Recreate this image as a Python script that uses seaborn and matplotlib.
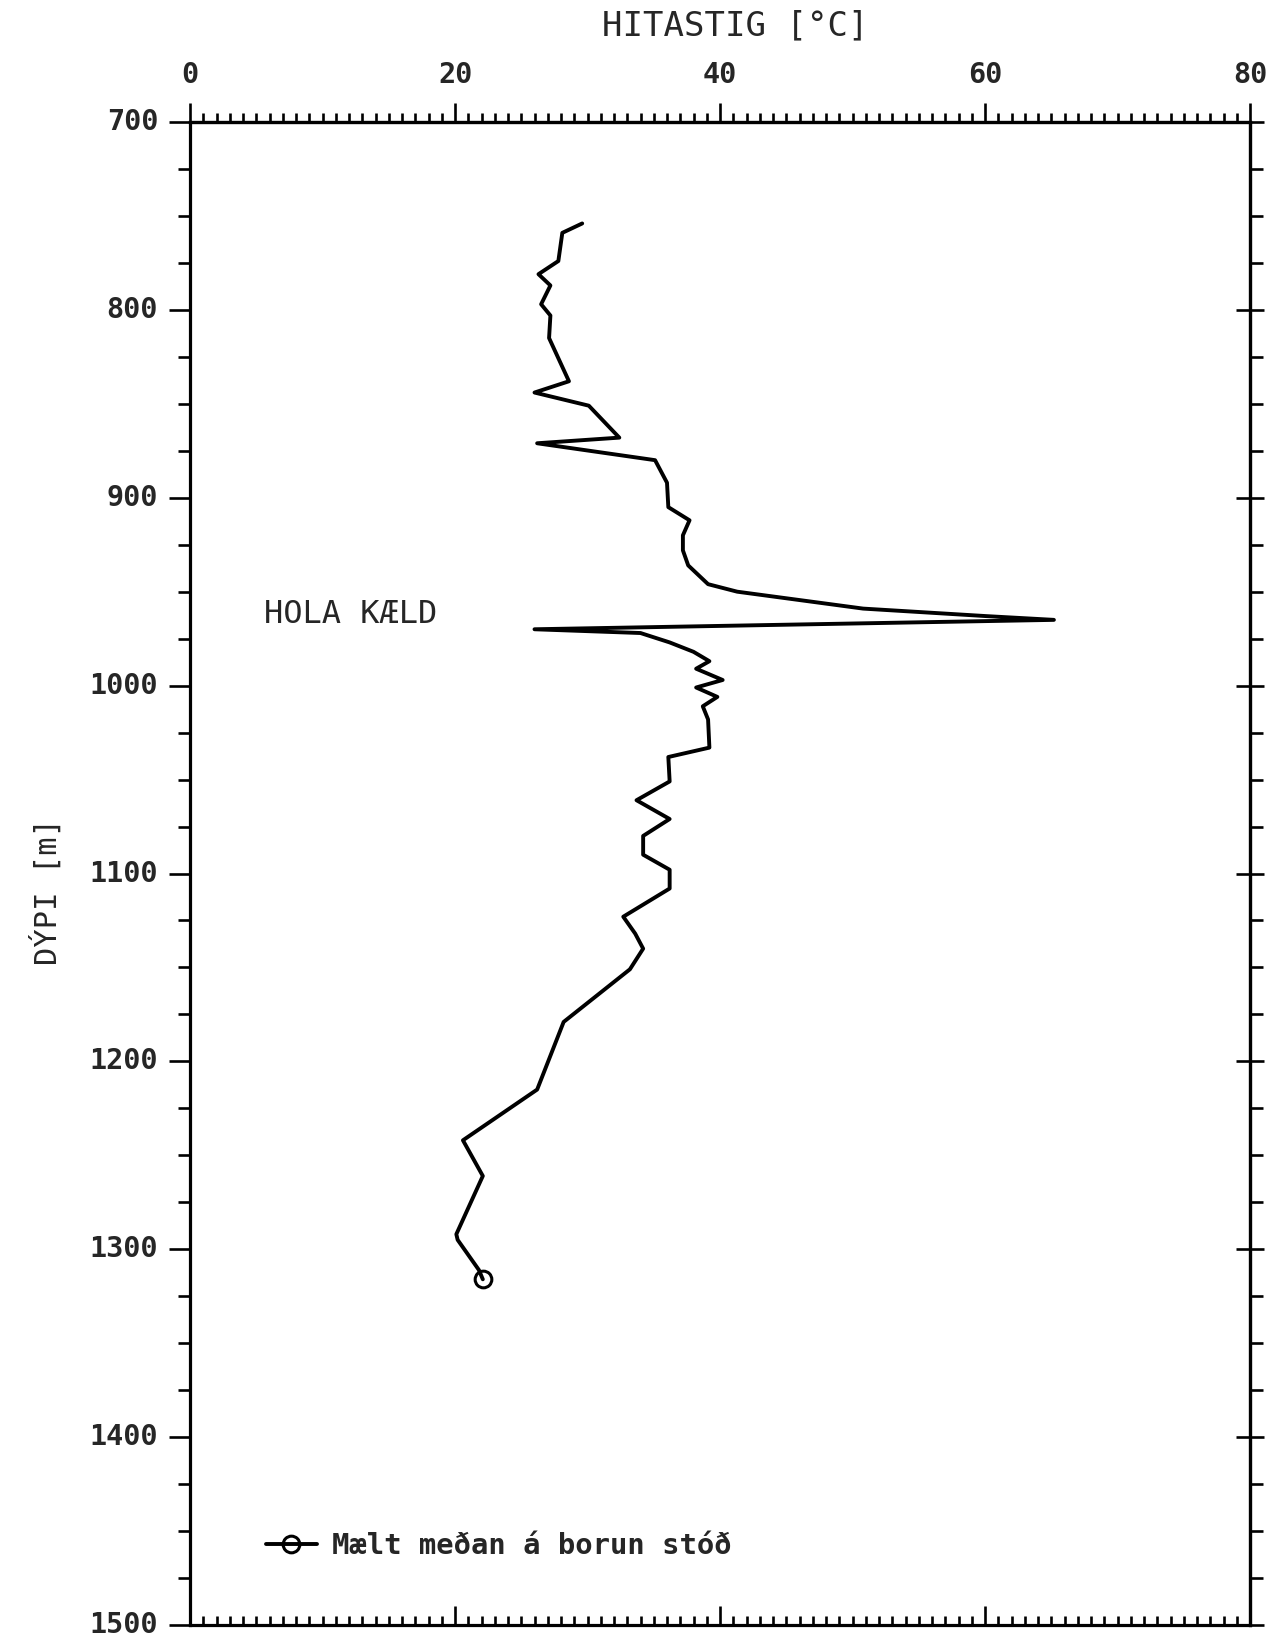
import matplotlib
matplotlib.use('Agg')
import matplotlib.pyplot as plt
from matplotlib.ticker import MultipleLocator, FixedLocator
from matplotlib.lines import Line2D
import seaborn as sns
import pandas as pd

# ---- data ----
temp = [29.6, 28.1, 27.8, 26.3, 27.2, 26.5, 27.2, 27.1, 28.6, 26.0,
        30.1, 32.4, 26.2, 35.1, 36.0, 36.1, 37.7, 37.2, 37.2, 37.6,
        39.1, 41.3, 50.8, 60.1, 65.2, 26.0, 34.0, 36.2, 38.0, 39.2,
        38.2, 40.2, 38.2, 39.8, 38.7, 39.1, 39.2, 36.1, 36.2, 33.7,
        36.2, 34.2, 34.2, 36.2, 36.2, 32.7, 33.6, 34.2, 33.2, 28.2,
        26.2, 20.6, 22.1, 20.1, 20.2, 21.8, 22.1]
depth = [754, 759, 774, 781, 787, 797, 803, 815, 838, 844,
         851, 868, 871, 880, 892, 905, 912, 920, 928, 936,
         946, 950, 959, 963, 965, 970, 972, 977, 982, 987,
         991, 997, 1001, 1006, 1011, 1018, 1033, 1038, 1051, 1061,
         1071, 1080, 1090, 1098, 1108, 1123, 1132, 1140, 1151, 1179,
         1215, 1242, 1261, 1292, 1295, 1311, 1316]
x_ticks = [0, 20, 40, 60, 80]
y_ticks = [700, 800, 900, 1000, 1100, 1200, 1300, 1400, 1500]
x_label = 'HITASTIG [°C]'
y_label = 'DÝPI [m]'
annotation = 'HOLA KÆLD'
legend_label = 'Mælt meðan á borun stóð'

sns.set_style('white')
plt.rcParams['font.family'] = ['DejaVu Sans Mono', 'DejaVu Sans']

fig = plt.figure(figsize=(12.76, 16.36), dpi=100)
ax = fig.add_axes([190/1276, 11/1636, 1060/1276, 1503/1636])

df = pd.DataFrame({'temp': temp, 'depth': depth})
sns.lineplot(data=df, x='temp', y='depth', sort=False, estimator=None, ax=ax,
             color='black', linewidth=2.8, marker='o', markevery=[len(df) - 1],
             markersize=12, markerfacecolor='none', markeredgecolor='black',
             markeredgewidth=2.2)

ax.set_xlim(0, 80)
ax.set_ylim(1500, 700)

lw = 2.3
for s in ax.spines.values():
    s.set_linewidth(lw)
    s.set_color('black')

# bottom x ticks (inward), no labels
ax.xaxis.set_major_locator(FixedLocator(x_ticks))
ax.xaxis.set_minor_locator(MultipleLocator(1))
ax.tick_params(axis='x', which='both', bottom=True, top=False, labelbottom=False,
               direction='in', width=1.9, color='black')
ax.tick_params(axis='x', which='major', length=13.5)
ax.tick_params(axis='x', which='minor', length=6.5)

# top x ticks (outward) with labels
top = ax.secondary_xaxis('top')
top.xaxis.set_major_locator(FixedLocator(x_ticks))
top.xaxis.set_minor_locator(MultipleLocator(1))
top.tick_params(which='both', direction='out', width=1.9, color='black')
top.tick_params(which='major', length=13.5, labelsize=20.5, pad=10)
top.tick_params(which='minor', length=6.5)
top.spines['top'].set_linewidth(lw)
for t in top.get_xticklabels():
    t.set_fontweight('bold')

# left y ticks (outward) with labels
ax.yaxis.set_major_locator(FixedLocator(y_ticks))
ax.yaxis.set_minor_locator(MultipleLocator(25))
ax.tick_params(axis='y', which='both', left=True, right=False, direction='out',
               width=1.9, color='black')
ax.tick_params(axis='y', which='major', length=15, labelsize=20.5, pad=8)
ax.tick_params(axis='y', which='minor', length=9)
for t in ax.get_yticklabels():
    t.set_fontweight('bold')
    t.set_va('center')

# right y ticks
right = ax.secondary_yaxis('right')
right.yaxis.set_major_locator(FixedLocator(y_ticks))
right.yaxis.set_minor_locator(MultipleLocator(25))
right.tick_params(which='both', labelright=False, width=1.9, color='black')
right.tick_params(which='major', direction='inout', length=20)
right.tick_params(which='minor', direction='out', length=9)
right.spines['right'].set_linewidth(lw)

# axis labels
ax.xaxis.set_label_position('top')
ax.set_xlabel(x_label, fontsize=24.5)
ax.xaxis.set_label_coords(0.514, 1.064)
ax.xaxis.label.set_va('center')
ax.set_ylabel(y_label, fontsize=22)
ax.yaxis.set_label_coords(-0.135, 0.488)
ax.yaxis.label.set_va('center')

ax.text(5.6, 962, annotation, fontsize=23, va='center', ha='left')

handle = Line2D([], [], color='black', lw=2.8, marker='o', ms=12, mfc='none',
                mec='black', mew=2.2)
ax.legend(handles=[handle], labels=[legend_label], loc='center left',
          bbox_to_anchor=(0.0717, 0.0525), frameon=False, borderpad=0,
          borderaxespad=0, handlelength=1.75, handletextpad=0.55,
          prop={'weight': 'bold', 'size': 20.8})

fig.savefig('out.png', dpi=100)
